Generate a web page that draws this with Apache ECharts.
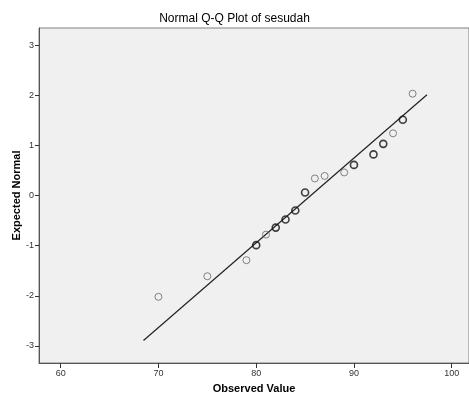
<!DOCTYPE html>
<html>
<head>
<meta charset="utf-8">
<script src="https://cdn.jsdelivr.net/npm/echarts@6/dist/echarts.min.js"></script>
<style>html,body{margin:0;padding:0;background:#fff}#c{width:469px;height:403px}</style>
</head>
<body>
<div id="c"></div>
<script>
const observed = [70, 75, 79, 80, 81, 82, 83, 84, 85, 86, 87, 89, 90, 92, 93, 94, 95, 96];
const expected = [-2.02, -1.61, -1.29, -0.99, -0.78, -0.64, -0.48, -0.30, 0.06, 0.34, 0.39, 0.46, 0.61, 0.82, 1.03, 1.24, 1.51, 2.03];
const repeated = [0, 0, 0, 1, 0, 1, 1, 1, 1, 0, 0, 0, 1, 1, 1, 0, 1, 0];
const lineX = [68.47, 97.47];
const lineY = [-2.89, 2.01];
const xTicks = [60, 70, 80, 90, 100];
const yTicks = [-3, -2, -1, 0, 1, 2, 3];

const single = [], multi = [];
observed.forEach((v, i) => (repeated[i] ? multi : single).push([v, expected[i]]));

const chart = echarts.init(document.getElementById('c'));
const font = 'Liberation Sans, Arial, sans-serif';
chart.setOption({
  animation: false,
  title: {
    text: 'Normal Q-Q Plot of sesudah', left: 'center', top: 8,
    textStyle: {fontFamily: font, fontSize: 12, fontWeight: 'normal', color: '#000'}
  },
  grid: {left: 39, right: 0, top: 28, bottom: 40, containLabel: false, outerBoundsMode: 'none',
         show: true, backgroundColor: '#f0f0f0', borderColor: '#808080', borderWidth: 1},
  xAxis: {
    type: 'value', min: 57.78, max: 101.77,
    name: 'Observed Value', nameLocation: 'middle', nameGap: 20, nameMoveOverlap: false,
    nameTextStyle: {fontFamily: font, fontSize: 11, fontWeight: 'bold', color: '#000'},
    axisLine: {show: true, onZero: false, lineStyle: {color: '#555'}},
    axisTick: {show: true, length: 5, lineStyle: {color: '#333'}, customValues: xTicks},
    axisLabel: {fontFamily: font, fontSize: 9, color: '#333', margin: 6, customValues: xTicks},
    splitLine: {show: false}
  },
  yAxis: {
    type: 'value', min: -3.34, max: 3.34,
    name: 'Expected Normal', nameLocation: 'middle', nameGap: 17, nameMoveOverlap: false,
    nameTextStyle: {fontFamily: font, fontSize: 11, fontWeight: 'bold', color: '#000'},
    axisLine: {show: true, onZero: false, lineStyle: {color: '#555'}},
    axisTick: {show: true, length: 4, lineStyle: {color: '#333'}, customValues: yTicks},
    axisLabel: {fontFamily: font, fontSize: 9, color: '#333', margin: 5, customValues: yTicks},
    splitLine: {show: false}
  },
  series: [
    {type: 'line', data: lineX.map((x, i) => [x, lineY[i]]), showSymbol: false, symbol: 'none',
     lineStyle: {color: '#222', width: 1.2}, z: 1},
    {type: 'scatter', data: single, symbol: 'circle', symbolSize: 7,
     itemStyle: {color: 'rgba(0,0,0,0)', borderColor: '#666', borderWidth: 1}, z: 2},
    {type: 'scatter', data: multi, symbol: 'circle', symbolSize: 7,
     itemStyle: {color: 'rgba(0,0,0,0)', borderColor: '#111', borderWidth: 1.6}, z: 3}
  ]
});
</script>
</body>
</html>
